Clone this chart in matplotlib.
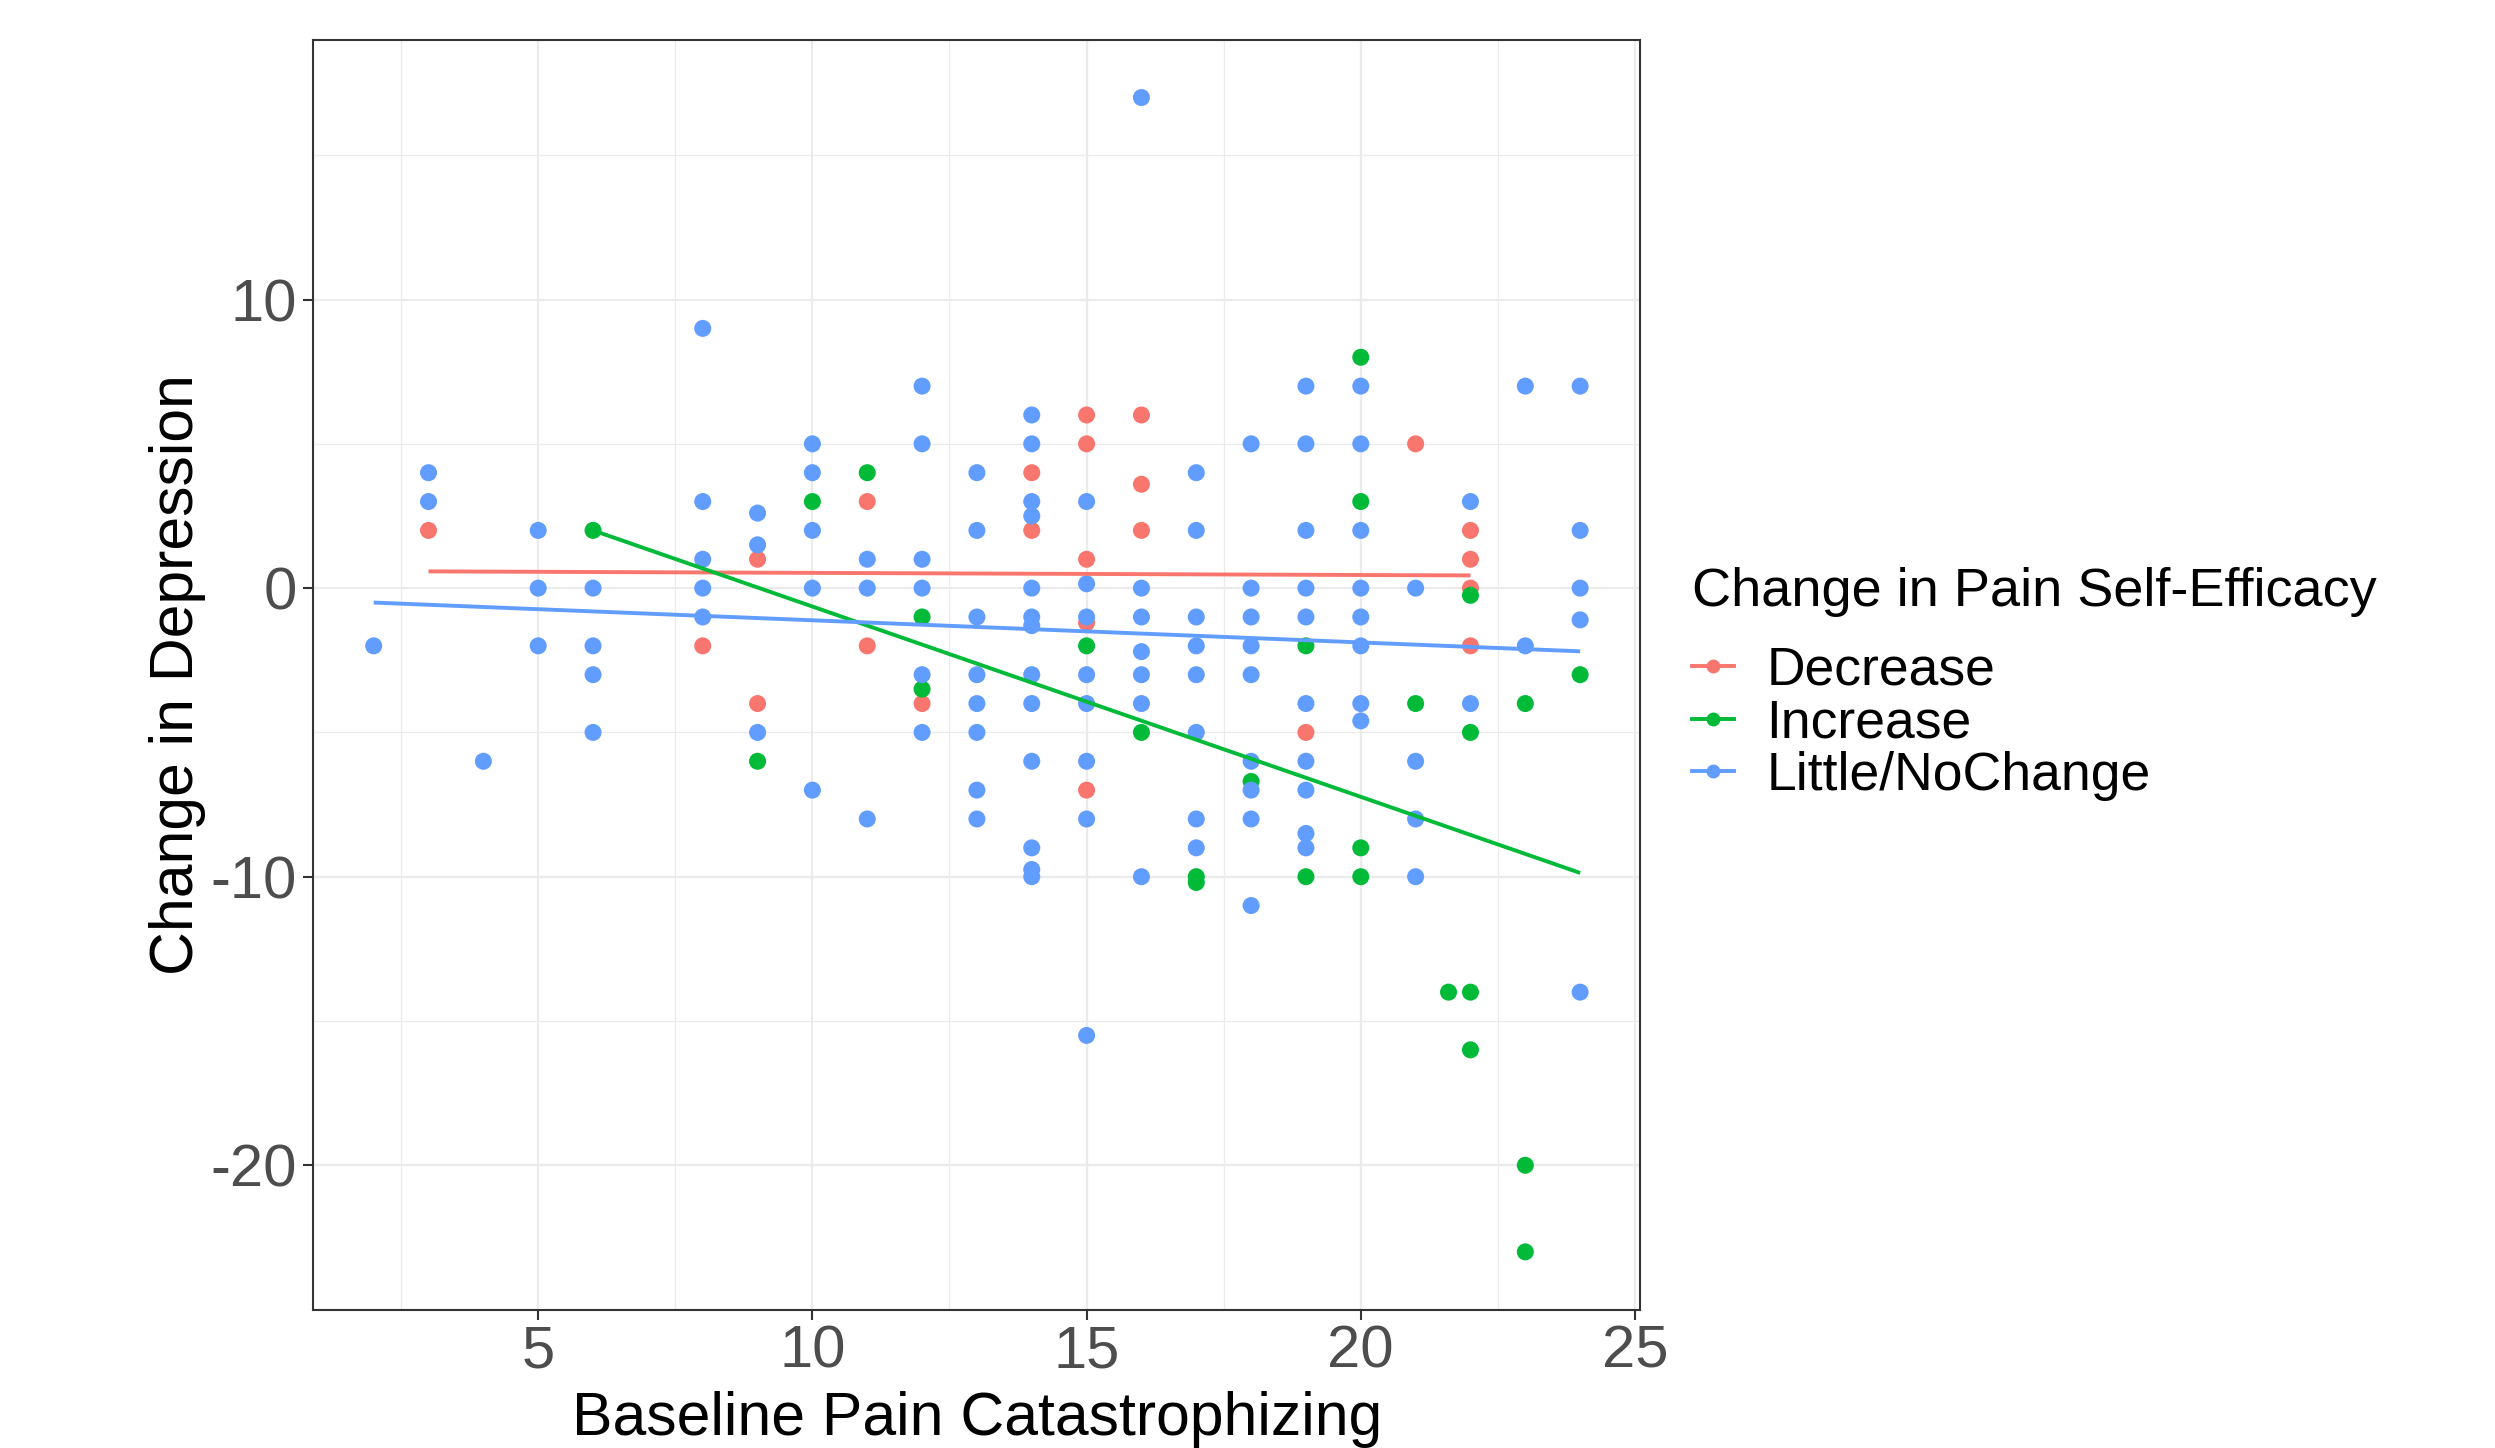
import numpy as np
import matplotlib
matplotlib.use("Agg")
import matplotlib.pyplot as plt
from matplotlib.lines import Line2D
from matplotlib.ticker import FixedLocator

plt.rcParams['font.family'] = ['Liberation Sans', 'DejaVu Sans']
plt.rcParams['axes.unicode_minus'] = False

# ---------------- data ----------------
groups = ["Decrease", "Increase", "Little/NoChange"]
colors = ["#F8766D", "#00BA38", "#619CFF"]

dec_x = [3, 8, 9, 9, 11, 11, 12, 14, 14, 15, 15, 15, 15, 15, 16, 16, 16, 19, 21, 22, 22, 22, 22]
dec_y = [2, -2, 1, -4, 3, -2, -4, 4, 2, 6, 5, 1, -1.2, -7, 6, 3.6, 2, -5, 5, 2, 1, 0, -2]

inc_x = [6, 9, 10, 11, 12, 12, 15, 16, 17, 17, 18, 19, 19, 20, 20, 20, 20, 21, 21.6, 22, 22, 22, 22, 23, 23, 23, 24]
inc_y = [2, -6, 3, 4, -1, -3.5, -2, -5, -10, -10.2, -6.7, -2, -10, 8, 3, -9, -10, -4, -14, -0.25, -5, -14, -16, -4, -20, -23, -3]

nc_x = [2, 3, 3, 4, 5, 5, 5, 6, 6, 6, 6,
        8, 8, 8, 8, 8, 9, 9, 9,
        10, 10, 10, 10, 10, 11, 11, 11,
        12, 12, 12, 12, 12, 12,
        13, 13, 13, 13, 13, 13, 13, 13,
        14, 14, 14, 14, 14, 14, 14, 14, 14, 14, 14, 14, 14,
        15, 15, 15, 15, 15, 15, 15, 15,
        16, 16, 16, 16, 16, 16, 16,
        17, 17, 17, 17, 17, 17, 17, 17,
        18, 18, 18, 18, 18, 18, 18, 18, 18,
        19, 19, 19, 19, 19, 19, 19, 19, 19, 19,
        20, 20, 20, 20, 20, 20, 20, 20,
        21, 21, 21, 21, 22, 22, 23, 23,
        24, 24, 24, 24, 24]
nc_y = [-2, 4, 3, -6, 2, 0, -2, 0, -2, -3, -5,
        9, 3, 1, 0, -1, 2.6, 1.5, -5,
        5, 4, 2, 0, -7, 1, 0, -8,
        7, 5, 1, 0, -3, -5,
        4, 2, -1, -3, -4, -5, -7, -8,
        6, 5, 3, 2.5, 0, -1, -1.3, -3, -4, -6, -9, -9.75, -10,
        3, 0.15, -1, -3, -4, -6, -8, -15.5,
        17, 0, -1, -2.2, -3, -4, -10,
        4, 2, -1, -2, -3, -5, -8, -9,
        5, 0, -1, -2, -3, -6, -7, -8, -11,
        7, 5, 2, 0, -1, -4, -6, -7, -8.5, -9,
        7, 5, 2, 0, -1, -2, -4, -4.6,
        0, -6, -8, -10, 3, -4, 7, -2,
        7, 2, 0, -1.1, -14]

# fitted trend lines: (x_start, x_end), (y_start, y_end)
dec_fit_x = [3, 22];  dec_fit_y = [0.58, 0.44]
inc_fit_x = [6, 24];  inc_fit_y = [2.0, -9.87]
nc_fit_x = [2, 24];   nc_fit_y = [-0.5, -2.19]

x_ticks = [5, 10, 15, 20, 25]
y_ticks = [-20, -10, 0, 10]
x_label = "Baseline Pain Catastrophizing"
y_label = "Change in Depression"
legend_title = "Change in Pain Self-Efficacy"

series = [(dec_x, dec_y), (inc_x, inc_y), (nc_x, nc_y)]
fits = [(dec_fit_x, dec_fit_y), (inc_fit_x, inc_fit_y), (nc_fit_x, nc_fit_y)]

# ---------------- figure ----------------
fig = plt.figure(figsize=(24.95, 14.48), dpi=100)
ax = fig.add_axes([0.1256, 0.0956, 0.5319, 0.8769])

for (xs, ys), c in zip(series, colors):
    ax.scatter(xs, ys, s=150, color=c, edgecolors='none', zorder=3)

for (fx, fy), c in zip(fits, colors):
    ax.plot(fx, fy, color=c, lw=2.8, zorder=4, solid_capstyle='butt')

allx = np.concatenate([np.asarray(s[0], float) for s in series])
ally = np.concatenate([np.asarray(s[1], float) for s in series])
rx = allx.max() - allx.min(); ry = ally.max() - ally.min()
ax.set_xlim(allx.min() - 0.05 * rx, allx.max() + 0.05 * rx)
ax.set_ylim(ally.min() - 0.05 * ry, ally.max() + 0.05 * ry)

ax.xaxis.set_major_locator(FixedLocator(x_ticks))
ax.yaxis.set_major_locator(FixedLocator(y_ticks))
ax.xaxis.set_minor_locator(FixedLocator([t - 2.5 for t in x_ticks]))
ax.yaxis.set_minor_locator(FixedLocator([-25, -15, -5, 5, 15]))

ax.grid(which='major', color='#EBEBEB', lw=1.6, zorder=0)
ax.grid(which='minor', color='#EBEBEB', lw=0.9, zorder=0)
ax.set_axisbelow(True)
ax.tick_params(which='minor', length=0)
ax.tick_params(which='major', length=7, width=1.5, color='#333333',
               labelsize=43, labelcolor='#4D4D4D')
ax.tick_params(axis='y', pad=5)
ax.tick_params(axis='x', pad=4)
for sp in ax.spines.values():
    sp.set_color('#333333'); sp.set_linewidth(1.5)

ax.set_xlabel(x_label, fontsize=43.7, color='black', labelpad=8)
ax.set_ylabel(y_label, fontsize=43.7, color='black', labelpad=3)

# legend
handles = [Line2D([], [], color=c, lw=2.8, marker='o', markersize=9) for c in colors]
fig.text(0.678, 0.591, legend_title, fontsize=39, ha='left', va='center')
leg = fig.legend(handles, groups, loc='upper left', bbox_to_anchor=(0.678, 0.554),
                 bbox_transform=fig.transFigure, frameon=False, fontsize=38.5,
                 handlelength=0.8, handletextpad=0.6, labelspacing=0.05,
                 borderpad=0, borderaxespad=0)

fig.savefig("out.png", dpi=100)
